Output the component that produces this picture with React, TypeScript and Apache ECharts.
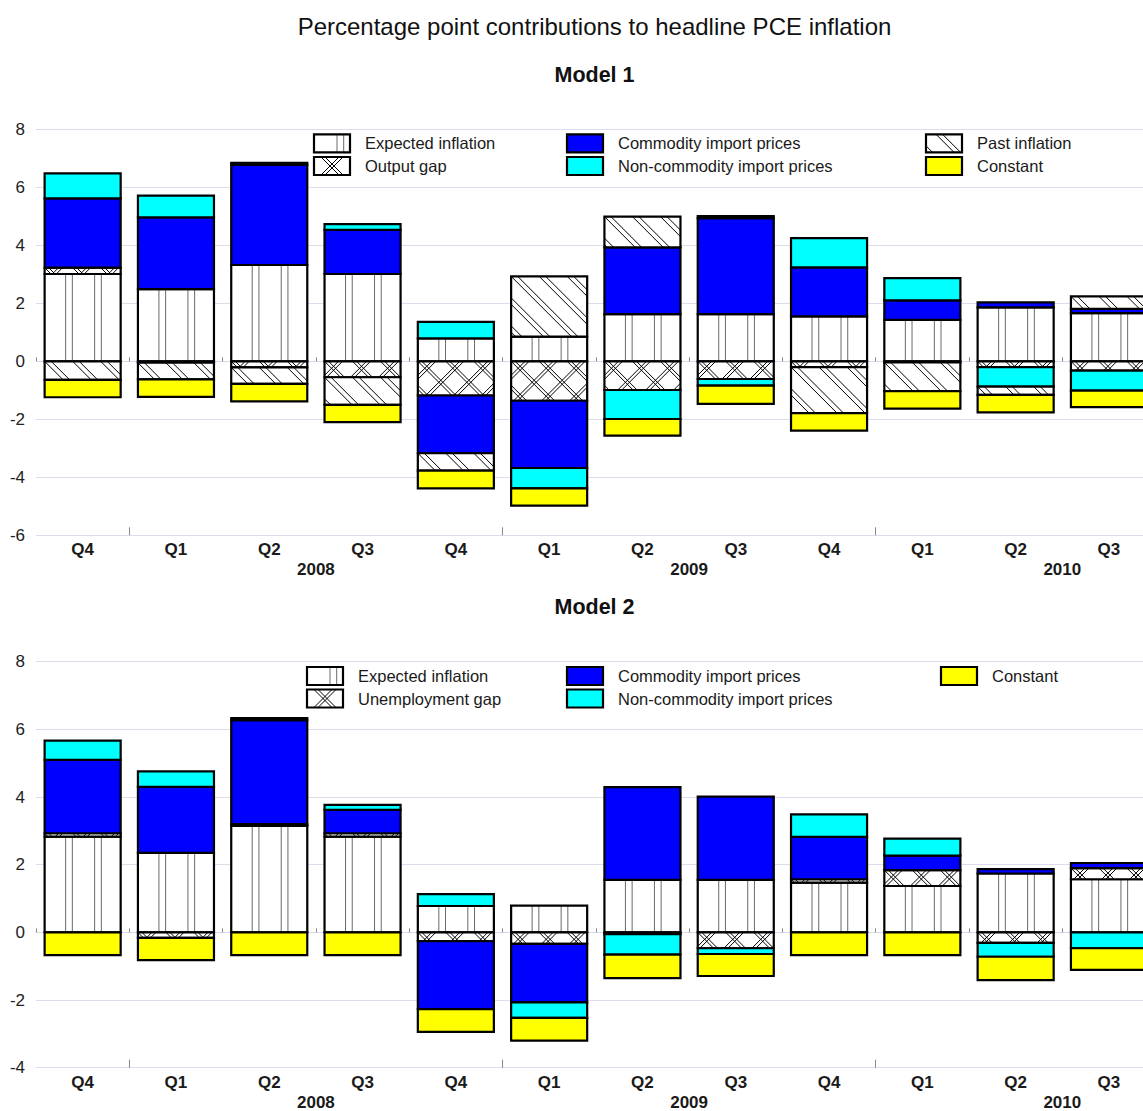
import React, { useEffect, useRef } from "react";
import * as echarts from "echarts";

// ---------- data ----------
const quarterLabels = ["Q4", "Q1", "Q2", "Q3", "Q4", "Q1", "Q2", "Q3", "Q4", "Q1", "Q2", "Q3", "Q4"];
const yearLabels = ["2008", "2009", "2010"];

// Model 1 (Q4 2007 .. Q3 2010)
const expected1 = [3.01, 2.49, 3.32, 3.01, 0.79, 0.85, 1.63, 1.63, 1.55, 1.43, 1.86, 1.66];
const outputGap1 = [0.22, -0.05, -0.21, -0.55, -1.18, -1.36, -0.99, -0.61, -0.2, -0.04, -0.2, -0.32];
const commodity1 = [2.39, 2.47, 3.46, 1.52, -1.99, -2.32, 2.3, 3.31, 1.69, 0.67, 0.17, 0.15];
const nonCommodity1 = [0.86, 0.75, 0.06, 0.2, 0.57, -0.7, -1.0, -0.23, 1.01, 0.77, -0.67, -0.69];
const past1 = [-0.64, -0.57, -0.57, -0.95, -0.6, 2.08, 1.06, 0.07, -1.59, -0.99, -0.29, 0.43];
const constant1 = [-0.6, -0.61, -0.6, -0.6, -0.61, -0.6, -0.57, -0.63, -0.6, -0.6, -0.6, -0.57];

// Model 2
const expected2 = [2.83, 2.35, 3.15, 2.83, 0.78, 0.79, 1.55, 1.55, 1.47, 1.37, 1.74, 1.57];
const unempGap2 = [0.1, -0.16, 0.05, 0.1, -0.26, -0.34, -0.05, -0.47, 0.1, 0.47, -0.31, 0.33];
const commodity2 = [2.17, 1.95, 3.07, 0.69, -2.01, -1.73, 2.74, 2.46, 1.25, 0.43, 0.13, 0.15];
const nonCommodity2 = [0.57, 0.46, 0.06, 0.15, 0.35, -0.46, -0.61, -0.17, 0.67, 0.5, -0.41, -0.47];
const constant2 = [-0.67, -0.66, -0.67, -0.67, -0.67, -0.67, -0.69, -0.65, -0.67, -0.67, -0.69, -0.64];

const FONT = "'Liberation Sans', Arial, sans-serif";

type Hatch = "none" | "vertical" | "diag" | "cross";
type SDef = { name: string; data: number[]; fill: string; hatch: Hatch };

const model1: SDef[] = [
  { name: "Expected inflation", data: expected1, fill: "#ffffff", hatch: "vertical" },
  { name: "Output gap", data: outputGap1, fill: "#ffffff", hatch: "cross" },
  { name: "Commodity import prices", data: commodity1, fill: "#0000ff", hatch: "none" },
  { name: "Non-commodity import prices", data: nonCommodity1, fill: "#00ffff", hatch: "none" },
  { name: "Past inflation", data: past1, fill: "#ffffff", hatch: "diag" },
  { name: "Constant", data: constant1, fill: "#ffff00", hatch: "none" },
];
const model2: SDef[] = [
  { name: "Expected inflation", data: expected2, fill: "#ffffff", hatch: "vertical" },
  { name: "Unemployment gap", data: unempGap2, fill: "#ffffff", hatch: "cross" },
  { name: "Commodity import prices", data: commodity2, fill: "#0000ff", hatch: "none" },
  { name: "Non-commodity import prices", data: nonCommodity2, fill: "#00ffff", hatch: "none" },
  { name: "Constant", data: constant2, fill: "#ffff00", hatch: "none" },
];

// ---------- hatch geometry ----------
type Seg = { x1: number; y1: number; x2: number; y2: number };
function hatchLines(kind: Hatch, x0: number, y0: number, x1: number, y1: number, ph: number, ph2: number): Seg[] {
  const out: Seg[] = [];
  if (kind === "vertical") {
    const period = 29, gap = 6.7;
    for (let x = x0 + ph; x < x1; x += period) {
      for (const xx of [x, x + gap]) {
        if (xx > x0 + 1 && xx < x1 - 1) out.push({ x1: xx, y1: y0, x2: xx, y2: y1 });
      }
    }
  }
  if (kind === "diag" || kind === "cross") {
    const period = 28;
    const gap = kind === "diag" ? 6.5 : 4;
    const base = x0 - y0 + ph;
    const cMin = x0 - y1, cMax = x1 - y0;
    let k = Math.floor((cMin - base) / period) - 1;
    for (; base + k * period <= cMax; k++) {
      for (const c of [base + k * period, base + k * period + gap]) {
        const lo = Math.max(y0, x0 - c), hi = Math.min(y1, x1 - c);
        if (hi - lo > 0.3) out.push({ x1: lo + c, y1: lo, x2: hi + c, y2: hi });
      }
    }
  }
  if (kind === "cross") {
    const period = 28, gap = 4;
    const base = x0 + y0 + ph2;
    const cMin = x0 + y0, cMax = x1 + y1;
    let k = Math.floor((cMin - base) / period) - 1;
    for (; base + k * period <= cMax; k++) {
      for (const c of [base + k * period, base + k * period + gap]) {
        const lo = Math.max(y0, c - x1), hi = Math.min(y1, c - x0);
        if (hi - lo > 0.3) out.push({ x1: c - lo, y1: lo, x2: c - hi, y2: hi });
      }
    }
  }
  return out;
}
function hatchColor(kind: Hatch) {
  return kind === "vertical" ? "#6a6a6a" : "#000000";
}

// ---------- stacking ----------
function stackModel(defs: SDef[]) {
  const n = defs[0].data.length;
  const pos = new Array(n).fill(0);
  const neg = new Array(n).fill(0);
  return defs.map((d) => {
    const rows: number[][] = [];
    d.data.forEach((v, i) => {
      if (v == null || v === 0) return;
      if (v > 0) {
        rows.push([i, pos[i], pos[i] + v]);
        pos[i] += v;
      } else {
        rows.push([i, neg[i], neg[i] + v]);
        neg[i] += v;
      }
    });
    return rows;
  });
}

const BAR_RATIO = 0.815;
function makeRenderItem(fill: string, hatch: Hatch) {
  return (params: any, api: any) => {
    const idx = api.value(0);
    const a = api.coord([idx, api.value(1)]);
    const b = api.coord([idx, api.value(2)]);
    const band = api.size([1, 0])[0];
    const w = band * BAR_RATIO;
    const x0 = a[0] - w / 2;
    const x1 = x0 + w;
    const yT = Math.min(a[1], b[1]);
    const yB = Math.max(a[1], b[1]);
    const children: any[] = [
      { type: "rect", shape: { x: x0, y: yT, width: w, height: yB - yT }, style: { fill, stroke: "none" } },
    ];
    hatchLines(hatch, x0, yT, x1, yB, hatch === "vertical" ? 21 : 0, 14).forEach((s) =>
      children.push({ type: "line", shape: s, style: { stroke: hatchColor(hatch), lineWidth: 1 } })
    );
    children.push({
      type: "rect",
      shape: { x: x0, y: yT, width: w, height: yB - yT },
      style: { fill: "none", stroke: "#000", lineWidth: 2.2 },
    });
    return { type: "group", children };
  };
}

function legendGraphics(defs: SDef[], colX: number[], rowY: number[]) {
  const els: any[] = [];
  defs.forEach((d, i) => {
    const col = Math.floor(i / 2);
    const row = i % 2;
    const bx = colX[col];
    const cy = rowY[row];
    const bw = 36, bh = 18;
    const by = cy - bh / 2;
    els.push({ type: "rect", shape: { x: bx, y: by, width: bw, height: bh }, style: { fill: d.fill, stroke: "none" }, silent: true });
    const ph = d.hatch === "vertical" ? 23 : d.hatch === "diag" ? 10 : 7;
    hatchLines(d.hatch, bx, by, bx + bw, by + bh, ph, 25).forEach((s) =>
      els.push({ type: "line", shape: s, style: { stroke: hatchColor(d.hatch), lineWidth: 1 }, silent: true })
    );
    els.push({ type: "rect", shape: { x: bx, y: by, width: bw, height: bh }, style: { fill: "none", stroke: "#000", lineWidth: 2.2 }, silent: true });
    els.push({
      type: "text",
      x: bx + 51,
      y: cy,
      style: { text: d.name, fill: "#1a1a1a", font: `16.5px ${FONT}`, textVerticalAlign: "middle", verticalAlign: "middle", textAlign: "left", align: "left" },
      silent: true,
    });
  });
  return els;
}

function titleText(text: string, y: number, size: number, bold: boolean) {
  return {
    type: "text",
    x: 594.5,
    y,
    style: {
      text,
      fill: "#111",
      font: `${bold ? "bold " : ""}${size}px ${FONT}`,
      textAlign: "center",
      align: "center",
      textVerticalAlign: "middle",
      verticalAlign: "middle",
    },
    silent: true,
  };
}

const GRID_LEFT = 36;
const BAND = 93.3;
const NCAT = quarterLabels.length;
const LAST_SHOWN = 11; // the 13th quarter lies past the picture's right edge

function axesFor(gridIndex: number) {
  const cat = {
    type: "category",
    gridIndex,
    data: quarterLabels,
    boundaryGap: true,
    position: "bottom",
    axisLine: { show: true, lineStyle: { color: "#d8d8ec", width: 1 } },
    axisTick: { show: true, inside: true, length: 4, lineStyle: { color: "#8a8a8a" } },
    axisLabel: {
      interval: (i: number) => i <= LAST_SHOWN,
      margin: 6,
      fontSize: 17,
      fontWeight: "bold",
      color: "#1a1a1a",
      fontFamily: FONT,
    },
    splitLine: { show: false },
  };
  const years = {
    type: "value",
    gridIndex,
    min: 0,
    max: NCAT,
    position: "bottom",
    axisLine: { show: false },
    splitLine: { show: false },
    axisTick: {
      show: true,
      inside: true,
      length: 8,
      customValues: yearLabels.map((_, k) => 1 + 4 * k),
      lineStyle: { color: "#8a8a8a" },
    },
    axisLabel: {
      customValues: yearLabels.map((_, k) => 3 + 4 * k),
      formatter: (v: number) => yearLabels[Math.round((v - 3) / 4)] ?? "",
      margin: 26,
      fontSize: 17,
      fontWeight: "bold",
      color: "#1a1a1a",
      fontFamily: FONT,
    },
  };
  return [cat, years];
}

function yAxisFor(gridIndex: number, min: number, max: number) {
  return {
    type: "value",
    gridIndex,
    min,
    max,
    interval: 2,
    axisLine: { show: false },
    axisTick: { show: false },
    axisLabel: { margin: 11, fontSize: 17, color: "#222", fontFamily: FONT },
    splitLine: { show: true, lineStyle: { color: "#dcdcee", width: 1 } },
  };
}

function seriesFor(defs: SDef[], xAxisIndex: number, yAxisIndex: number) {
  const stacked = stackModel(defs);
  return defs.map((d, i) => ({
    type: "custom",
    name: d.name,
    xAxisIndex,
    yAxisIndex,
    data: stacked[i],
    encode: { x: 0, y: [1, 2] },
    renderItem: makeRenderItem(d.fill, d.hatch),
    clip: false,
    silent: true,
  }));
}

export default function App() {
  const ref = useRef<HTMLDivElement>(null);
  useEffect(() => {
    if (!ref.current) return;
    const chart = echarts.init(ref.current, null, { renderer: "svg" });
    const option: any = {
      animation: false,
      backgroundColor: "#ffffff",
      textStyle: { fontFamily: FONT },
      grid: [
        { left: GRID_LEFT, top: 129.3, width: BAND * NCAT, height: 406 },
        { left: GRID_LEFT, top: 661.7, width: BAND * NCAT, height: 406 },
      ],
      xAxis: [...axesFor(0), ...axesFor(1)],
      yAxis: [yAxisFor(0, -6, 8), yAxisFor(1, -4, 8)],
      series: [...seriesFor(model1, 0, 0), ...seriesFor(model2, 2, 1)],
      graphic: [
        titleText("Percentage point contributions to headline PCE inflation", 26, 24, false),
        titleText("Model 1", 75, 21.5, true),
        titleText("Model 2", 607, 21.5, true),
        ...legendGraphics(model1, [314, 567, 926], [143.3, 166]),
        ...legendGraphics(model2, [307, 567, 941], [676, 698.5]),
      ],
    };
    chart.setOption(option);
    return () => chart.dispose();
  }, []);
  return (
    <div style={{ position: "fixed", left: 0, top: 0, width: 1143, height: 1111, overflow: "hidden", background: "#fff" }}>
      <div ref={ref} style={{ width: 1320, height: 1111 }} />
    </div>
  );
}
